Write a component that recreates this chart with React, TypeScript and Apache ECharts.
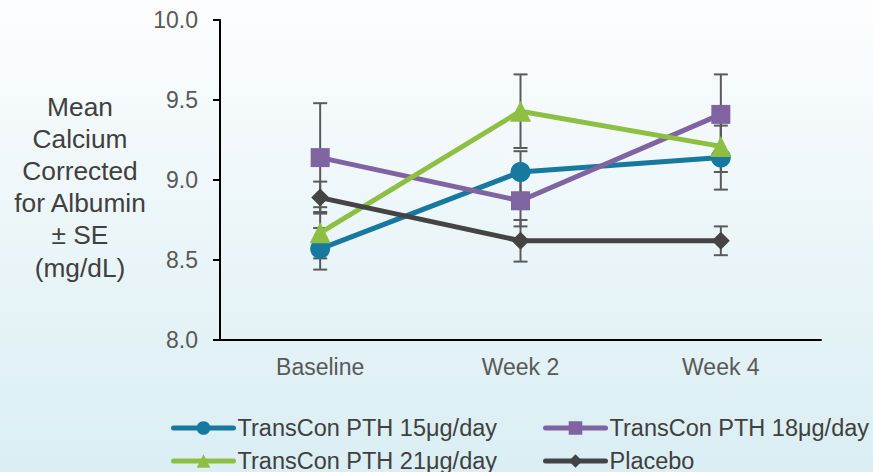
import React, { useEffect, useRef } from "react";
import * as echarts from "echarts";

const categories = ["Baseline", "Week 2", "Week 4"];
const seriesNames = [
  "TransCon PTH 15μg/day",
  "TransCon PTH 18μg/day",
  "TransCon PTH 21μg/day",
  "Placebo",
];
const pth15 = [8.57, 9.05, 9.14];
const pth15Err = [0.13, 0.13, 0.2];
const pth18 = [9.14, 8.87, 9.41];
const pth18Err = [0.34, 0.16, 0.25];
const pth21 = [8.67, 9.43, 9.21];
const pth21Err = [0.16, 0.23, 0.16];
const placebo = [8.89, 8.62, 8.62];
const placeboErr = [0.1, 0.13, 0.09];
const yTicks = [8.0, 8.5, 9.0, 9.5, 10.0];

const colors = ["#17799f", "#8064a2", "#8dbf43", "#444444"];
const symbols = ["circle", "rect", "triangle", "diamond"];
const symbolSizes = [20, 19, 21, 18];
const FONT = "'Liberation Sans', Arial, sans-serif";

export default function App() {
  const ref = useRef<HTMLDivElement>(null);
  useEffect(() => {
    if (!ref.current) return;
    const chart = echarts.init(ref.current, undefined, { renderer: "svg" });
    const vals = [pth15, pth18, pth21, placebo];
    const errs = [pth15Err, pth18Err, pth21Err, placeboErr];
    const errData: number[][] = [];
    vals.forEach((arr, s) =>
      arr.forEach((v, i) => {
        errData.push([i, v - errs[s][i], v + errs[s][i]]);
      })
    );
    const lineSeries = seriesNames.map((name, s) => ({
      name,
      type: "line",
      data: vals[s],
      symbol: symbols[s],
      symbolSize: symbolSizes[s],
      z: 3,
      itemStyle: { color: colors[s] },
      lineStyle: { color: colors[s], width: 5 },
    }));
    const legendPos = [
      { left: 171, top: 416 },
      { left: 543, top: 416 },
      { left: 171, top: 449 },
      { left: 543, top: 449 },
    ];
    const option: any = {
      animation: false,
      backgroundColor: {
        type: "linear",
        x: 0,
        y: 0,
        x2: 0,
        y2: 1,
        colorStops: [
          { offset: 0, color: "#fcfdfe" },
          { offset: 1, color: "#daeef3" },
        ],
      },
      grid: { left: 220, right: 52, top: 20, bottom: 132 },
      legend: seriesNames.map((name, s) => ({
        data: [name],
        left: legendPos[s].left,
        top: legendPos[s].top,
        padding: 0,
        itemWidth: 60,
        itemHeight: 17,
        lineStyle: { width: 5, cap: "round" },
        textStyle: { fontFamily: FONT, fontSize: 23.5, color: "#404040", padding: [0, 0, 0, -1] },
      })),
      xAxis: {
        type: "category",
        data: categories,
        boundaryGap: true,
        axisLine: { lineStyle: { color: "#000", width: 2 } },
        axisTick: { show: false },
        axisLabel: {
          fontFamily: FONT,
          fontSize: 23,
          color: "#595959",
          margin: 15,
        },
      },
      yAxis: {
        type: "value",
        min: yTicks[0],
        max: yTicks[yTicks.length - 1],
        interval: 0.5,
        splitLine: { show: false },
        axisLine: { show: true, lineStyle: { color: "#000", width: 2 } },
        axisTick: { show: true, length: 7, lineStyle: { color: "#000", width: 2 } },
        axisLabel: {
          fontFamily: FONT,
          fontSize: 23,
          color: "#595959",
          margin: 22,
          formatter: (v: number) => v.toFixed(1),
        },
      },
      graphic: [
        {
          type: "text",
          x: 80,
          y: 187,
          style: {
            text: "Mean\nCalcium\nCorrected\nfor Albumin\n± SE\n(mg/dL)",
            fontFamily: FONT,
            fontSize: 26.3,
            lineHeight: 32.2,
            fill: "#404040",
            align: "center",
            verticalAlign: "middle",
          },
        },
      ],
      series: [
        {
          type: "custom",
          z: 1,
          silent: true,
          data: errData,
          renderItem: (params: any, api: any) => {
            const x = api.value(0);
            const lo = api.coord([x, api.value(1)]);
            const hi = api.coord([x, api.value(2)]);
            const hw = 7;
            const st = { stroke: "#5a5a5a", lineWidth: 2 };
            return {
              type: "group",
              children: [
                { type: "line", shape: { x1: lo[0], y1: lo[1], x2: hi[0], y2: hi[1] }, style: st },
                { type: "line", shape: { x1: lo[0] - hw, y1: lo[1], x2: lo[0] + hw, y2: lo[1] }, style: st },
                { type: "line", shape: { x1: hi[0] - hw, y1: hi[1], x2: hi[0] + hw, y2: hi[1] }, style: st },
              ],
            };
          },
        },
        ...lineSeries,
      ],
    };
    chart.setOption(option);
    return () => chart.dispose();
  }, []);
  return (
    <div
      ref={ref}
      style={{ position: "fixed", left: 0, top: 0, width: 873, height: 472 }}
    />
  );
}
